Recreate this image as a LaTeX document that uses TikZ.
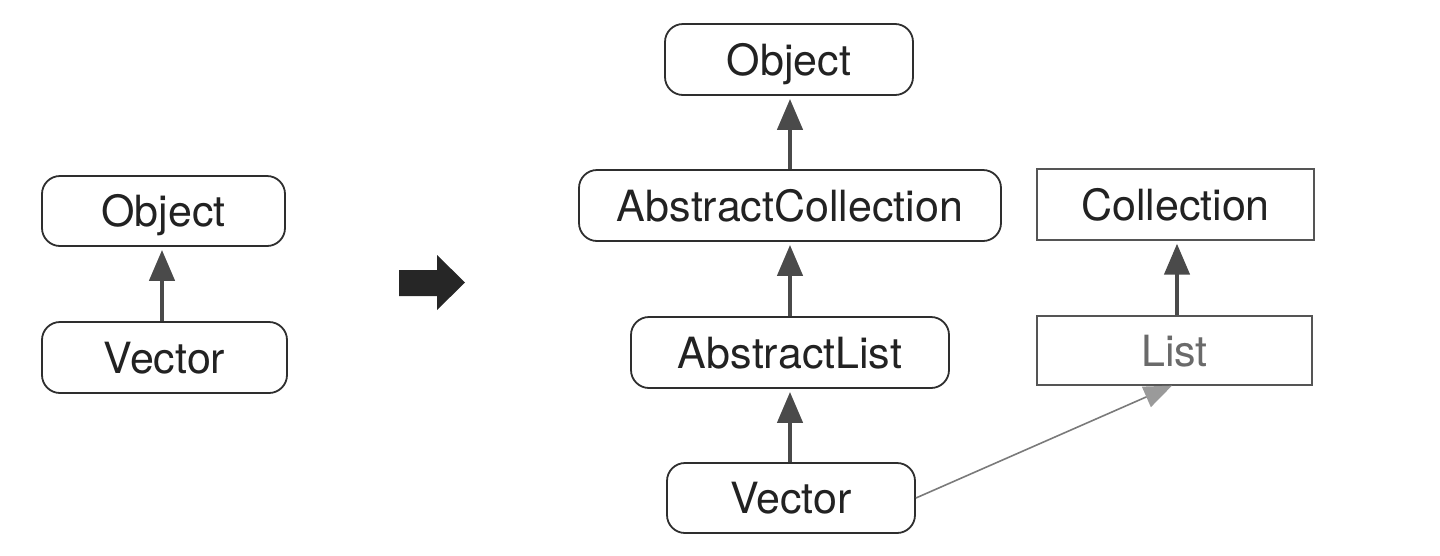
\documentclass[tikz,border=0pt]{standalone}
\usepackage{fontspec}
\setmainfont{TeX Gyre Heros}
\usetikzlibrary{arrows.meta,calc}
\definecolor{boxline}{HTML}{2E2E2E}
\definecolor{txt}{HTML}{222222}
\definecolor{arr}{HTML}{4A4A4A}
\definecolor{thinarr}{HTML}{7A7A7A}
\definecolor{thinhead}{HTML}{9A9A9A}
\definecolor{bigarr}{HTML}{262626}
\definecolor{ifline}{HTML}{555555}
\definecolor{listtxt}{HTML}{6A6A6A}
\tikzset{
  x=1pt, y=-1pt,
  cls/.style={draw=boxline, line width=1.8pt, rounded corners=18pt, fill=white,
    text=txt, font=\fontsize{43}{50}\selectfont, inner sep=0pt,
    text height=31pt, text depth=0pt, anchor=center},
  iface/.style={draw=ifline, line width=1.3pt, fill=white,
    text=txt, font=\fontsize{43}{50}\selectfont, inner sep=0pt,
    text height=31pt, text depth=0pt, anchor=center},
  inh/.style={draw=arr, line width=4.5pt, shorten >=3pt,
    -{Triangle[length=31pt,width=25pt,fill=arr]}},
  impl/.style={draw=thinarr, line width=1.6pt,
    -{Triangle[length=28pt,width=22pt,color=thinhead,fill=thinhead]}}
}
\begin{document}
\begin{tikzpicture}
\useasboundingbox (0,0) rectangle (1440,555);
% left diagram
\node[cls, minimum width=243pt, minimum height=70pt] (lobj) at (163.5,211) {Object};
\node[cls, minimum width=245pt, minimum height=71pt] (lvec) at (164.5,357.5) {Vector};
\draw[inh] (lvec.north -| 162,0) -- (lobj.south -| 162,0);
% big arrow
\fill[bigarr] (399,270) -- (437,270) -- (437,255) -- (465,282.5) -- (437,310) -- (437,296) -- (399,296) -- cycle;
% right diagram
\node[cls, minimum width=248pt, minimum height=71pt] (robj) at (789,59.5) {Object};
\node[cls, minimum width=422pt, minimum height=71pt] (racol) at (790,205.5) {AbstractCollection};
\node[cls, minimum width=318pt, minimum height=71pt] (ralist) at (790,352.5) {AbstractList};
\node[cls, minimum width=248pt, minimum height=70pt] (rvec) at (791,498) {Vector};
\node[iface, minimum width=277pt, minimum height=71pt] (coll) at (1175.5,204.5) {Collection};
\node[iface, minimum width=275pt, minimum height=69pt, text=listtxt] (list) at (1174.5,350.5) {List};
\draw[inh] (racol.north -| 790,0) -- (robj.south -| 790,0);
\draw[inh] (ralist.north -| 790,0) -- (racol.south -| 790,0);
\draw[inh] (rvec.north -| 790,0) -- (ralist.south -| 790,0);
\draw[inh] (list.north -| 1177,0) -- (coll.south -| 1177,0);
\draw[impl] (rvec.east) -- (list.south -| 1172,0);
\end{tikzpicture}
\end{document}
